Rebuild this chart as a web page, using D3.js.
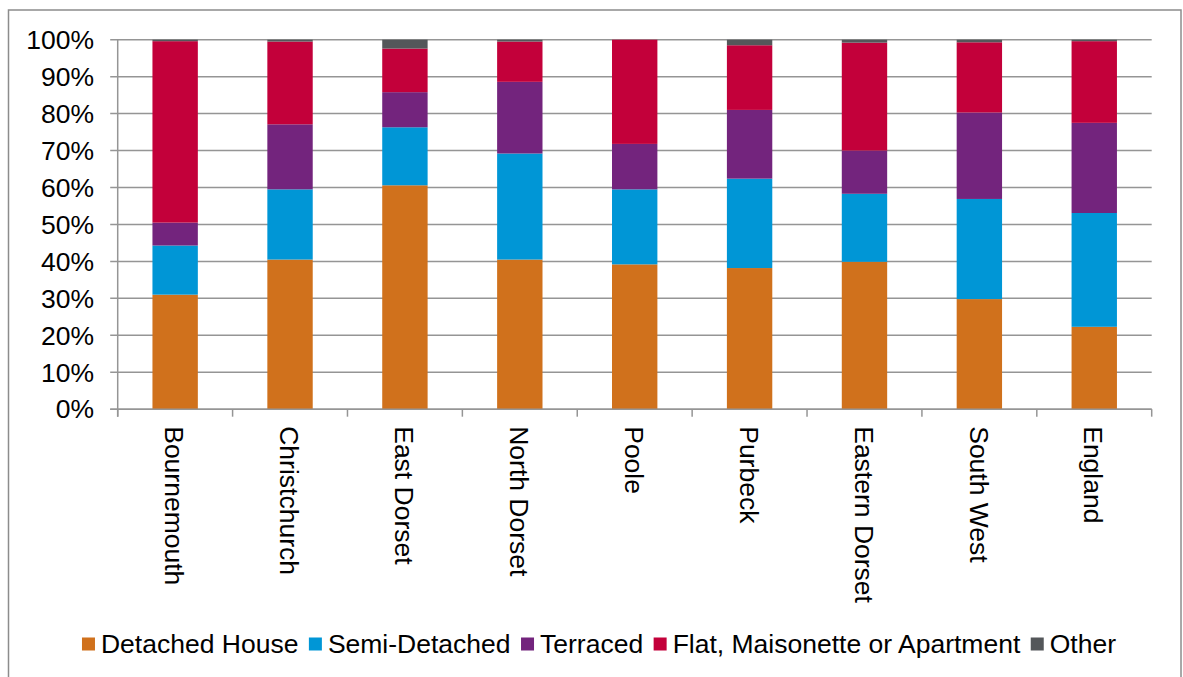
<!DOCTYPE html>
<html><head><meta charset="utf-8">
<script src="https://cdn.jsdelivr.net/npm/d3@7"></script>
<style>body{margin:0;background:#fff;} svg{display:block;font-family:"Liberation Sans",Arial,sans-serif;}</style>
</head><body>
<svg id="chart" width="1183" height="677"></svg>
<script>
const categories = ["Bournemouth","Christchurch","East Dorset","North Dorset","Poole","Purbeck","Eastern Dorset","South West","England"];
const seriesNames = ["Detached House","Semi-Detached","Terraced","Flat, Maisonette or Apartment","Other"];
const detached = [31.0, 40.5, 60.6, 40.5, 39.2, 38.2, 39.9, 29.8, 22.3];
const semi     = [13.3, 19.0, 15.7, 28.7, 20.3, 24.2, 18.4, 27.1, 30.8];
const terraced = [ 6.2, 17.6,  9.5, 19.4, 12.3, 18.6, 11.7, 23.4, 24.4];
const flat     = [49.1, 22.4, 11.8, 10.9, 28.2, 17.5, 29.2, 19.0, 22.1];
const other    = [ 0.4,  0.5,  2.4,  0.5,  0.0,  1.5,  0.8,  0.7,  0.4];
const yTicks = [0,10,20,30,40,50,60,70,80,90,100];
const colors = ["#D0711C","#0096D6","#73247D","#C3003A","#54575A"];

(function(){
const svg = d3.select("#chart");
svg.append("rect").attr("x",8.5).attr("y",10).attr("width",1172.5).attr("height",680)
  .attr("fill","#fff").attr("stroke","#8c8c8c").attr("stroke-width",1.5);

const pL=117.7, pR=1151.7, pT=39.7, pB=409.2;
const fs = 26.5;
const x = d3.scaleBand().domain(categories).range([pL,pR]).padding(0);
const y = d3.scaleLinear().domain([0,100]).range([pB,pT]);

svg.append("g").selectAll("line").data(yTicks).join("line")
  .attr("x1",pL-7.5).attr("x2",pR).attr("y1",d=>y(d)).attr("y2",d=>y(d))
  .attr("stroke","#959595").attr("stroke-width",1.5);

const rows = categories.map((c,i)=>({cat:c, "Detached House":detached[i], "Semi-Detached":semi[i], "Terraced":terraced[i], "Flat, Maisonette or Apartment":flat[i], "Other":other[i]}));
const stack = d3.stack().keys(seriesNames)(rows);
const bw = x.bandwidth()*0.395;
stack.forEach((s,k)=>{
  svg.append("g").attr("fill",colors[k]).selectAll("rect").data(s).join("rect")
    .attr("x",d=>x(d.data.cat)+x.bandwidth()/2-bw/2).attr("width",bw)
    .attr("y",d=>y(d[1])).attr("height",d=>Math.max(0,y(d[0])-y(d[1])));
});

svg.append("line").attr("x1",pL).attr("x2",pL).attr("y1",pT).attr("y2",pB+7.5)
  .attr("stroke","#959595").attr("stroke-width",1.5);
svg.append("line").attr("x1",pL-7.5).attr("x2",pR).attr("y1",pB).attr("y2",pB)
  .attr("stroke","#959595").attr("stroke-width",1.5);
const bounds = categories.map(c=>x(c)).concat([pR]);
svg.append("g").selectAll("line").data(bounds).join("line")
  .attr("x1",d=>d).attr("x2",d=>d).attr("y1",pB).attr("y2",pB+7.5)
  .attr("stroke","#959595").attr("stroke-width",1.5);

svg.append("g").selectAll("text").data(yTicks).join("text")
  .attr("x",94).attr("y",d=>y(d)).attr("dy","0.35em").attr("text-anchor","end")
  .attr("font-size",fs).attr("fill","#000").text(d=>d+"%");

svg.append("g").selectAll("text").data(categories).join("text")
  .attr("transform",d=>`translate(${x(d)+x.bandwidth()/2-0.5},${pB+17}) rotate(90)`)
  .attr("dy","0.35em").attr("text-anchor","start").attr("font-size",fs).attr("fill","#000").text(d=>d);

const lg = svg.append("g");
let cx = 0;
seriesNames.forEach((n,i)=>{
  const g = lg.append("g");
  g.append("rect").attr("width",13).attr("height",13).attr("y",-7).attr("fill",colors[i]);
  const t = g.append("text").attr("x",19).attr("y",8.2).attr("font-size",fs).attr("fill","#000").text(n);
  const w = 19 + t.node().getComputedTextLength();
  g.attr("transform",`translate(${cx},0)`);
  cx += w + 10.5;
});
const total = cx - 10.5;
lg.attr("transform",`translate(${599-total/2},644.5)`);
})();
</script>
</body></html>
